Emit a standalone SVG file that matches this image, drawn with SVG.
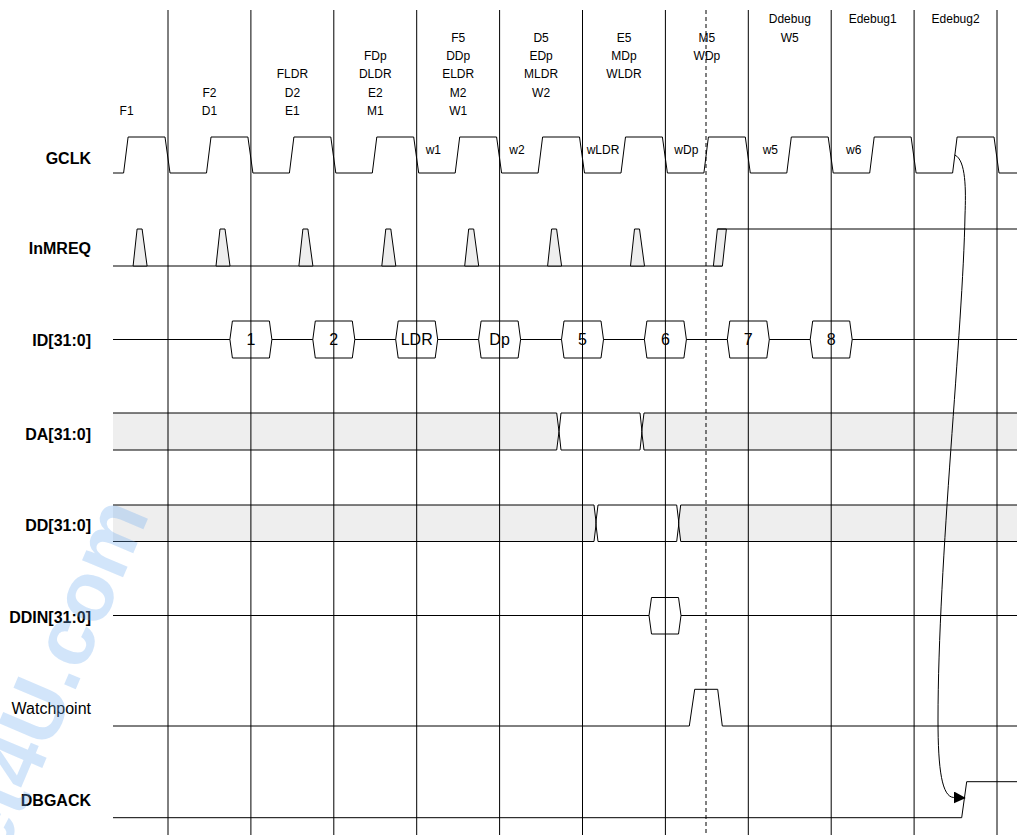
<svg xmlns="http://www.w3.org/2000/svg" width="1017" height="835" viewBox="0 0 1017 835">
<style>
text{font-family:"Liberation Sans",Arial,sans-serif;fill:#000}
.top{font-size:12px;text-anchor:middle}
.w{font-size:12px}
.sig{font-size:16px;font-weight:bold;text-anchor:end}
.sign{font-size:16px;text-anchor:end}
.bus{font-size:16px;text-anchor:middle}
.ln{fill:none;stroke:#000;stroke-width:1}
.sh{fill:#eeeeee;stroke:none}
.pl{fill:#eeeeee;stroke:#000;stroke-width:1}
.hx{fill:#fff;stroke:#000;stroke-width:1}
.grid{stroke:#000;stroke-width:1}
</style>
<defs>
<marker id="ah" markerUnits="userSpaceOnUse" markerWidth="12" markerHeight="12" viewBox="0 0 10 10" refX="0" refY="5" orient="auto">
<path d="M0,0 L10,5 L0,10 Z" fill="#000"/>
</marker>
</defs>
<rect width="1017" height="835" fill="#fff"/>

<g id="phase-labels">
<text class="top" x="126.6" y="114.8">F1</text>
<text class="top" x="209.5" y="96.5">F2</text>
<text class="top" x="209.5" y="114.8">D1</text>
<text class="top" x="292.4" y="78.2">FLDR</text>
<text class="top" x="292.4" y="96.5">D2</text>
<text class="top" x="292.4" y="114.8">E1</text>
<text class="top" x="375.3" y="59.9">FDp</text>
<text class="top" x="375.3" y="78.2">DLDR</text>
<text class="top" x="375.3" y="96.5">E2</text>
<text class="top" x="375.3" y="114.8">M1</text>
<text class="top" x="458.2" y="41.6">F5</text>
<text class="top" x="458.2" y="59.9">DDp</text>
<text class="top" x="458.2" y="78.2">ELDR</text>
<text class="top" x="458.2" y="96.5">M2</text>
<text class="top" x="458.2" y="114.8">W1</text>
<text class="top" x="541.1" y="41.6">D5</text>
<text class="top" x="541.1" y="59.9">EDp</text>
<text class="top" x="541.1" y="78.2">MLDR</text>
<text class="top" x="541.1" y="96.5">W2</text>
<text class="top" x="624" y="41.6">E5</text>
<text class="top" x="624" y="59.9">MDp</text>
<text class="top" x="624" y="78.2">WLDR</text>
<text class="top" x="706.9" y="41.6">M5</text>
<text class="top" x="706.9" y="59.9">WDp</text>
<text class="top" x="789.8" y="23.3">Ddebug</text>
<text class="top" x="789.8" y="41.6">W5</text>
<text class="top" x="872.7" y="23.3">Edebug1</text>
<text class="top" x="955.6" y="23.3">Edebug2</text>
</g>

<g id="wait-labels">
<text class="w" x="425.7" y="153.5">w1</text>
<text class="w" x="509.3" y="153.5">w2</text>
<text class="w" x="586.7" y="153.5">wLDR</text>
<text class="w" x="674.3" y="153.5">wDp</text>
<text class="w" x="762.7" y="153.5">w5</text>
<text class="w" x="846" y="153.5">w6</text>
</g>

<g id="signal-names">
<text class="sig" x="91" y="164">GCLK</text>
<text class="sig" x="91" y="254">InMREQ</text>
<text class="sig" x="91" y="345.5">ID[31:0]</text>
<text class="sig" x="91" y="440">DA[31:0]</text>
<text class="sig" x="91" y="530.5">DD[31:0]</text>
<text class="sig" x="91" y="622.5">DDIN[31:0]</text>
<text class="sign" x="91" y="714">Watchpoint</text>
<text class="sig" x="91" y="805.5">DBGACK</text>
</g>

<g id="GCLK">
<polyline class="ln" points="113,173 123.6,173 128.1,137 165,137 170,173 206.5,173 211,137 247.9,137 252.9,173 289.4,173 293.9,137 330.8,137 335.8,173 372.3,173 376.8,137 413.7,137 418.7,173 455.2,173 459.7,137 496.6,137 501.6,173 538.1,173 542.6,137 579.5,137 584.5,173 621,173 625.5,137 662.4,137 667.4,173 703.9,173 708.4,137 745.3,137 750.3,173 786.8,173 791.3,137 828.2,137 833.2,173 869.7,173 874.2,137 911.1,137 916.1,173 952.6,173 957.1,137 994,137 999,173 1017,173"/>
</g>

<g id="InMREQ">
<line class="ln" x1="113" y1="266" x2="722.4" y2="266"/>
<polygon class="pl" points="133.1,266 137.1,229 142.1,229 147.1,266"/>
<polygon class="pl" points="216,266 220,229 225,229 230,266"/>
<polygon class="pl" points="298.9,266 302.9,229 307.9,229 312.9,266"/>
<polygon class="pl" points="381.8,266 385.8,229 390.8,229 395.8,266"/>
<polygon class="pl" points="464.7,266 468.7,229 473.7,229 478.7,266"/>
<polygon class="pl" points="547.6,266 551.6,229 556.6,229 561.6,266"/>
<polygon class="pl" points="630.5,266 634.5,229 639.5,229 644.5,266"/>
<polygon class="pl" points="713.4,266 717.4,229 726.4,229 722.4,266"/>
<polyline class="ln" points="717.4,229 1017,229"/>
</g>

<g id="ID">
<line class="ln" x1="113" y1="339.5" x2="1017" y2="339.5"/>
<polygon class="hx" points="229.9,339.5 232.4,321 269.4,321 271.9,339.5 269.4,358 232.4,358"/>
<polygon class="hx" points="312.8,339.5 315.3,321 352.3,321 354.8,339.5 352.3,358 315.3,358"/>
<polygon class="hx" points="395.7,339.5 398.2,321 435.2,321 437.7,339.5 435.2,358 398.2,358"/>
<polygon class="hx" points="478.6,339.5 481.1,321 518.1,321 520.6,339.5 518.1,358 481.1,358"/>
<polygon class="hx" points="561.5,339.5 564,321 601,321 603.5,339.5 601,358 564,358"/>
<polygon class="hx" points="644.4,339.5 646.9,321 683.9,321 686.4,339.5 683.9,358 646.9,358"/>
<polygon class="hx" points="727.3,339.5 729.8,321 766.8,321 769.3,339.5 766.8,358 729.8,358"/>
<polygon class="hx" points="810.2,339.5 812.7,321 849.7,321 852.2,339.5 849.7,358 812.7,358"/>
</g>

<g id="DA">
<polygon class="sh" points="113,413 556.7,413 559,431.5 556.7,450 113,450"/>
<polygon class="sh" points="644,413 1017,413 1017,450 644,450 641.7,431.5"/>
<path class="ln" d="M113,413 H556.7 L559,431.5 L556.7,450 H113 M561,413 L559,431.5 L561,450 H640 L642,431.5 L640,413 Z M1017,413 H644 L641.7,431.5 L644,450 H1017"/>
</g>

<g id="DD">
<polygon class="sh" points="113,505 594,505 596.2,523.2 594,541.5 113,541.5"/>
<polygon class="sh" points="680.7,505 1017,505 1017,541.5 680.7,541.5 678.5,523.2"/>
<path class="ln" d="M113,505 H594 L596.2,523.2 L594,541.5 H113 M598,505 L595.8,523.2 L598,541.5 H676.7 L678.9,523.2 L676.7,505 Z M1017,505 H680.7 L678.5,523.2 L680.7,541.5 H1017"/>
</g>

<g id="DDIN">
<line class="ln" x1="113" y1="615.5" x2="1017" y2="615.5"/>
<polygon class="hx" points="649,615.5 651.5,597.5 678.5,597.5 681,615.5 678.5,634 651.5,634"/>
</g>

<g id="Watchpoint">
<polyline class="ln" points="113,726 689.3,726 694.7,689.3 717.7,689.3 722.3,726 1017,726"/>
</g>

<g id="DBGACK">
<polyline class="ln" points="113,817.7 961.7,817.7 966.7,781.7 1017,781.7"/>
</g>

<g id="grid">
<line class="grid" x1="168" y1="10" x2="168" y2="835"/>
<line class="grid" x1="250.9" y1="10" x2="250.9" y2="835"/>
<line class="grid" x1="333.8" y1="10" x2="333.8" y2="835"/>
<line class="grid" x1="416.7" y1="10" x2="416.7" y2="835"/>
<line class="grid" x1="499.6" y1="10" x2="499.6" y2="835"/>
<line class="grid" x1="582.5" y1="10" x2="582.5" y2="835"/>
<line class="grid" x1="665.4" y1="10" x2="665.4" y2="835"/>
<line class="grid" x1="748.3" y1="10" x2="748.3" y2="835"/>
<line class="grid" x1="831.2" y1="10" x2="831.2" y2="835"/>
<line class="grid" x1="914.1" y1="10" x2="914.1" y2="835"/>
<line class="grid" x1="997" y1="10" x2="997" y2="835"/>
<line class="grid" x1="706" y1="10" x2="706" y2="835" stroke-dasharray="4,3"/>
</g>

<g id="bus-values">
<text class="bus" x="250.9" y="345.2">1</text>
<text class="bus" x="333.8" y="345.2">2</text>
<text class="bus" x="416.7" y="345.2">LDR</text>
<text class="bus" x="499.6" y="345.2">Dp</text>
<text class="bus" x="582.5" y="345.2">5</text>
<text class="bus" x="665.4" y="345.2">6</text>
<text class="bus" x="748.3" y="345.2">7</text>
<text class="bus" x="831.2" y="345.2">8</text>
</g>

<g id="connectors">
<path class="ln" d="M954.8,155 C966,160 966,190 965,215 C963,330 938,560 938,720 C938,770 942,797 953.8,797.5" marker-end="url(#ah)"/>
</g>

<text x="150" y="514" transform="rotate(-67 150 514)" font-size="84" font-weight="bold" text-anchor="end" style="fill:#6aaaf0;fill-opacity:0.3">et4U.com</text>
</svg>
